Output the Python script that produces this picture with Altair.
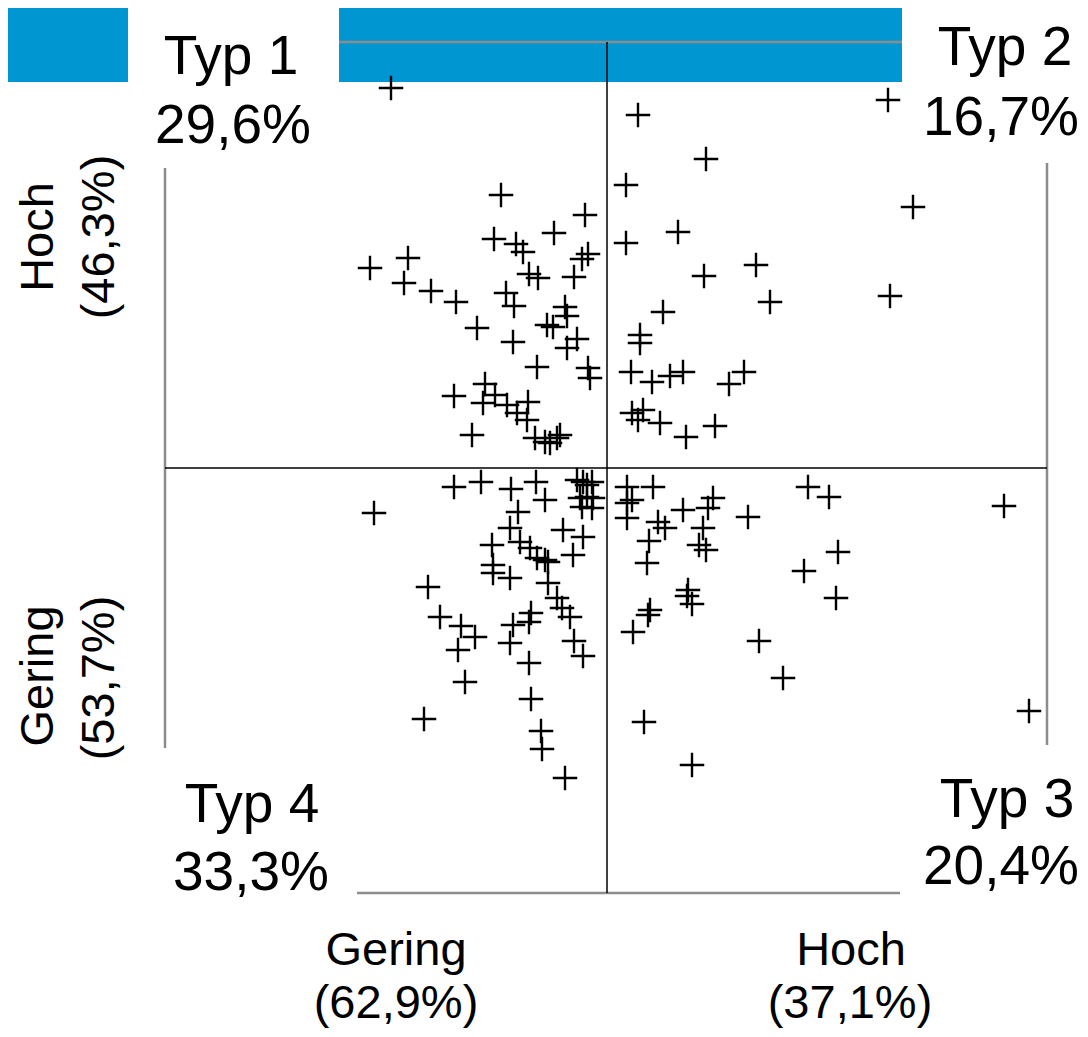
import altair as alt
import pandas as pd

# ---- data: positions (page pixel units) ----
ul_x = [391, 501, 585, 554, 494, 516, 523, 588, 582, 408, 370, 529, 538, 574, 404, 431, 456, 506, 514, 565,
        567, 477, 547, 553, 513, 577, 567, 537, 588, 590, 454, 485, 483, 495, 507, 517, 528, 527, 472, 535,
        545, 550, 557, 560]
ul_y = [88, 195, 215, 233, 239, 244, 252, 254, 259, 258, 268, 274, 278, 277, 283, 291, 302, 293, 306, 307,
        316, 328, 325, 327, 342, 339, 348, 367, 368, 378, 396, 384, 403, 395, 405, 413, 402, 420, 435, 438,
        442, 443, 438, 435]

ur_x = [638, 888, 706, 626, 913, 678, 626, 756, 704, 890, 770, 663, 640, 640, 631, 652, 670, 683, 729, 744,
        632, 643, 638, 660, 686, 715]
ur_y = [115, 100, 159, 185, 207, 232, 243, 265, 276, 296, 302, 312, 335, 343, 372, 382, 376, 372, 384, 372,
        413, 410, 420, 423, 437, 426]

ll_x = [454, 481, 511, 536, 545, 518, 577, 583, 587, 592, 580, 587, 593, 582, 592, 510, 563, 583, 492, 520,
        530, 537, 545, 548, 573, 493, 493, 510, 548, 374, 428, 557, 562, 570, 440, 461, 475, 458, 513, 531,
        529, 510, 574, 583, 529, 465, 531, 424, 541, 542, 565]
ll_y = [487, 482, 489, 482, 500, 512, 480, 482, 485, 482, 498, 497, 498, 507, 508, 528, 530, 537, 545, 542,
        548, 558, 560, 562, 555, 565, 573, 578, 583, 513, 587, 598, 608, 617, 617, 626, 637, 650, 625, 613,
        622, 643, 641, 656, 663, 682, 699, 719, 731, 749, 778]

lr_x = [627, 627, 627, 632, 653, 658, 665, 683, 713, 708, 703, 699, 706, 748, 649, 647, 688, 687, 692, 650,
        648, 633, 808, 829, 1004, 838, 804, 836, 759, 783, 1029, 644, 692]
lr_y = [487, 503, 518, 500, 487, 522, 528, 510, 498, 508, 528, 545, 550, 517, 541, 563, 590, 596, 604, 610,
        615, 632, 487, 497, 506, 552, 571, 598, 641, 678, 711, 722, 765]

xs = ul_x + ur_x + ll_x + lr_x
ys = ul_y + ur_y + ll_y + lr_y
df = pd.DataFrame({"x": xs, "y": ys})

W, H = 1072, 1021
xscale = alt.Scale(domain=[8, 8 + W], zero=False, nice=False)
yscale = alt.Scale(domain=[8, 8 + H], zero=False, nice=False, reverse=True)

FONT = "Liberation Sans"
BLUE = "#0096D2"
GRAY = "#8C8C8C"


def px(v):
    return v - 8


def rect(x1, x2, y1, y2, color):
    return alt.Chart(pd.DataFrame({"a": [0]})).mark_rect(color=color).encode(
        x=alt.value(px(x1)), x2=alt.value(px(x2)), y=alt.value(px(y1)), y2=alt.value(px(y2)))


def rule(x1, x2, y1, y2, color, w):
    return alt.Chart(pd.DataFrame({"a": [0]})).mark_rule(color=color, strokeWidth=w).encode(
        x=alt.value(px(x1)), x2=alt.value(px(x2)), y=alt.value(px(y1)), y2=alt.value(px(y2)))


def text(t, x, y, size, angle=0):
    kw = dict(font=FONT, fontSize=size, color="black", align="center", baseline="alphabetic")
    if angle:
        kw["angle"] = angle
    return alt.Chart(pd.DataFrame({"t": [t]})).mark_text(**kw).encode(
        x=alt.value(px(x)), y=alt.value(px(y)), text="t:N")


layers = [
    rect(0, 902, 0, 82, BLUE),
    rect(128, 339, 6, 82, "white"),
    rule(339, 902, 42, 42, GRAY, 2.5),
    rule(165, 165, 168, 748, GRAY, 2.5),
    rule(1047, 1047, 163, 745, GRAY, 2.5),
    rule(357, 900, 893, 893, GRAY, 2.5),
    rule(607, 607, 42, 893, "black", 1.5),
    rule(165, 1047, 468, 468, "black", 1.5),
]

points = alt.Chart(df).mark_point(
    shape="M-1,0H1M0,-1V1", filled=False, color="black", strokeWidth=2.4, size=600, opacity=1
).encode(
    x=alt.X("x:Q", scale=xscale, axis=None),
    y=alt.Y("y:Q", scale=yscale, axis=None),
)
layers.append(points)

TS = 55
AS = 47
layers += [
    text("Typ 1", 231, 74, TS),
    text("29,6%", 233, 143, TS),
    text("Typ 2", 1005, 65, TS),
    text("16,7%", 1001, 135, TS),
    text("Typ 4", 252, 822, TS),
    text("33,3%", 251, 890, TS),
    text("Typ 3", 1007, 817, TS),
    text("20,4%", 1001, 884, TS),
    text("Gering", 396, 965, AS),
    text("(62,9%)", 396, 1018, AS),
    text("Hoch", 851, 965, AS),
    text("(37,1%)", 850, 1018, AS),
    text("Hoch", 53, 237, AS, 270),
    text("(46,3%)", 114, 237, AS, 270),
    text("Gering", 53, 676, AS, 270),
    text("(53,7%)", 114, 678, AS, 270),
]

chart = alt.layer(*layers).properties(
    width=W, height=H, padding=0, autosize=alt.AutoSizeParams(type="none")
).configure_view(stroke=None)

chart.save("out.html", embed_options={"renderer": "svg", "actions": False})
